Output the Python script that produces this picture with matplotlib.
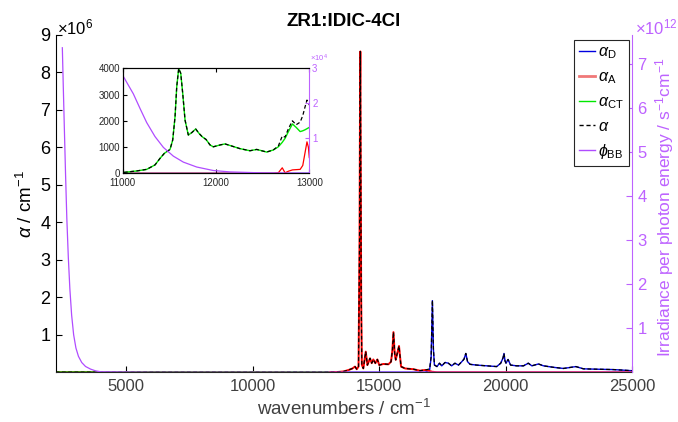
import matplotlib
matplotlib.use('Agg')
import matplotlib.pyplot as plt
from matplotlib.lines import Line2D

plt.rcParams['font.family'] = ['Liberation Sans', 'DejaVu Sans']
plt.rcParams['mathtext.fontset'] = 'custom'
plt.rcParams['mathtext.rm'] = 'Liberation Sans'
plt.rcParams['mathtext.it'] = 'Liberation Sans:italic'

# IR / NIR part (also shown in the inset), wavenumbers in cm-1, alpha in cm-1
wn_nir = [2222, 4000, 8000, 11000, 11150, 11257, 11346, 11400, 11446, 11507,
          11536, 11561, 11579, 11600, 11622, 11643, 11668, 11703, 11740, 11782,
          11818, 11853, 11893, 11936, 11971, 12043, 12096, 12168, 12257, 12364,
          12436, 12490, 12543, 12614, 12668, 12710, 12740, 12776, 12819, 12859,
          12902, 12930, 12955, 12975, 12990, 13000]
alpha_CT_nir = [0, 0, 5, 30, 90, 150, 320, 570, 760, 910,
                1270, 2160, 3300, 3990, 3810, 3050, 2030, 1460, 1550, 1690,
                1520, 1390, 1290, 1080, 1010, 1080, 1120, 1040, 940, 860,
                910, 860, 810, 890, 1010, 1180, 1330, 1590, 1880, 1750,
                1590, 1620, 1660, 1700, 1730, 1750]
alpha_A_nir = [0, 0, 0, 0, 0, 0, 0, 0, 0, 0,
               0, 0, 0, 0, 0, 0, 0, 0, 0, 0,
               0, 0, 0, 0, 0, 0, 0, 0, 0, 0,
               0, 0, 0, 0, 20, 210, 20, 80, 130, 140,
               150, 300, 800, 1200, 1000, 600]
alpha_nir = [0, 0, 5, 30, 90, 150, 320, 570, 760, 910,
             1270, 2160, 3300, 3990, 3810, 3050, 2030, 1460, 1550, 1690,
             1520, 1390, 1290, 1080, 1010, 1080, 1120, 1040, 940, 860,
             910, 860, 810, 890, 1040, 1420, 1380, 1700, 2000, 1850,
             1950, 2200, 2540, 2790, 2700, 2600]

# visible part, alpha in 1e6 cm-1
wn_vis = [13300, 13600, 13800, 13950, 14050, 14120, 14190, 14230, 14250, 14262,
          14275, 14295, 14320, 14380, 14475, 14540, 14645, 14710, 14775, 14855,
          14935, 15010, 15170, 15370, 15475, 15530, 15570, 15620, 15660, 15790,
          15870, 16030, 16360, 16620, 16820, 16900, 17000, 17060, 17110, 17150,
          17190, 17290, 17390, 17480, 17610, 17740, 17870, 18000, 18140, 18270,
          18360, 18430, 18500, 18600, 18860, 19260, 19650, 19810, 19900, 19940,
          19980, 20020, 20100, 20200, 20440, 20710, 20900, 21040, 21300, 21500,
          21900, 22290, 22780, 23080, 23610, 24270, 25000]
alpha_A_vis = [0.002, 0.02, 0.06, 0.10, 0.15, 0.08, 0.15, 3.5, 7.5, 8.56,
               6.0, 2.0, 0.2, 0.10, 0.55, 0.19, 0.37, 0.24, 0.34, 0.24,
               0.34, 0.19, 0.22, 0.21, 0.28, 0.60, 1.07, 0.50, 0.33, 0.70,
               0.15, 0.10, 0.08, 0.04, 0.06, 0.05, 0.03, 0.02, 0.01, 0.01,
               0.005, 0, 0, 0, 0, 0, 0, 0, 0, 0,
               0, 0, 0, 0, 0, 0, 0, 0, 0, 0,
               0, 0, 0, 0, 0, 0, 0, 0, 0, 0,
               0, 0, 0, 0, 0, 0, 0]
alpha_D_vis = [0, 0, 0, 0, 0, 0, 0, 0, 0, 0,
               0, 0, 0, 0, 0, 0, 0, 0, 0, 0,
               0, 0, 0, 0, 0, 0, 0, 0, 0, 0,
               0, 0, 0, 0, 0, 0.02, 0.06, 0.40, 1.91, 0.60,
               0.19, 0.15, 0.24, 0.17, 0.26, 0.24, 0.17, 0.24, 0.19, 0.28,
               0.35, 0.50, 0.28, 0.21, 0.19, 0.17, 0.15, 0.24, 0.38, 0.50,
               0.30, 0.24, 0.34, 0.19, 0.17, 0.17, 0.24, 0.17, 0.22, 0.17,
               0.13, 0.10, 0.15, 0.09, 0.08, 0.07, 0.04]

# black-body photon flux per photon energy, s-1 cm-1
wn_bb = [2483, 2520, 2560, 2610, 2660, 2720, 2780, 2850, 2930, 3020,
         3120, 3250, 3400, 3600, 3800, 4000, 6000, 11000, 11060, 11114,
         11186, 11257, 11346, 11436, 11543, 11650, 11793, 11971, 12150, 12500,
         13000, 25000]
phi_bb = [7.37e12, 6.5e12, 5.6e12, 4.5e12, 3.5e12, 2.6e12, 1.9e12, 1.3e12, 0.85e12, 0.55e12,
          0.36e12, 0.22e12, 0.13e12, 0.07e12, 0.03e12, 0.01e12, 0, 2.8e4, 2.52e4, 2.27e4,
          1.85e4, 1.45e4, 1.05e4, 0.74e4, 0.49e4, 0.32e4, 0.18e4, 0.08e4, 0.04e4, 0.012e4,
          0.003e4, 0]

wn_all = wn_nir + wn_vis
aA_all = [v / 1e6 for v in alpha_A_nir] + alpha_A_vis
aD_all = [0] * len(wn_nir) + alpha_D_vis
a_all = [v / 1e6 for v in alpha_nir] + [a + d for a, d in zip(alpha_A_vis, alpha_D_vis)]
aCT_main = [v / 1e6 for v in alpha_CT_nir]

purple = '#B04CFF'
purple_ax = '#BD62FF'
c_blue, c_red, c_green = '#0000E0', '#FF0000', '#00E800'
gray = '#404040'

fig = plt.figure(figsize=(6.78, 4.22), dpi=100)
ax = fig.add_axes([0.0822, 0.118, 0.850, 0.7991])
ax2 = ax.twinx()

ax.plot(wn_all, aD_all, color=c_blue, lw=1.0)
ax.plot(wn_all, aA_all, color=c_red, lw=1.4)
ax.plot(wn_nir, aCT_main, color=c_green, lw=1.2)
ax.plot(wn_all, a_all, color='k', lw=0.9, dashes=(3, 2))
ax2.plot(wn_bb, [p / 1e12 for p in phi_bb], color=purple, lw=0.9)

ax.set_xlim(2222, 25000)
ax.set_ylim(0, 9)
ax2.set_ylim(0, 7.66)
ax.set_xticks([5000, 10000, 15000, 20000, 25000])
ax.set_yticks(range(1, 10))
ax2.set_yticks(range(1, 8))

for a in (ax, ax2):
    a.spines['top'].set_visible(False)
ax.spines['right'].set_visible(False)
ax2.spines['left'].set_visible(False)
ax2.spines['bottom'].set_visible(False)
ax2.spines['right'].set_color(purple_ax)
ax.spines['bottom'].set_color('#262626')

ax.tick_params(axis='x', direction='in', length=4, labelsize=12, labelcolor=gray, pad=5)
ax.tick_params(axis='y', direction='in', length=4, labelsize=13, pad=4)
ax2.tick_params(axis='y', direction='in', length=4, labelsize=12, colors=purple_ax, pad=4)

ax.set_xlabel('wavenumbers / cm$^{-1}$', fontsize=13.5, color=gray)
ax.xaxis.set_label_coords(0.5, -0.078)
ax.set_ylabel(r'$\alpha$ / cm$^{-1}$', fontsize=13.5)
ax.yaxis.set_label_coords(-0.034, 0.5)
ax2.set_ylabel('Irradiance per photon energy / s$^{-1}$cm$^{-1}$', fontsize=12.5, color=purple_ax)
ax2.yaxis.set_label_coords(1.037, 0.49)

fig.text(343.9 / 678, 1 - 21.5 / 422, 'ZR1:IDIC-4Cl', ha='center', va='center',
         fontsize=13.5, fontweight='bold')
fig.text(57 / 678, 1 - 27 / 422, r'$\times10^{6}$', ha='left', va='center', fontsize=12)
fig.text(635 / 678, 1 - 27 / 422, r'$\times10^{12}$', ha='left', va='center',
         fontsize=12, color=purple_ax)

handles = [Line2D([], [], color=c_blue, lw=1),
           Line2D([], [], color='#F07878', lw=2),
           Line2D([], [], color=c_green, lw=1),
           Line2D([], [], color='k', lw=1, dashes=(3, 2)),
           Line2D([], [], color=purple, lw=1)]
labels = [r'$\alpha_{\rm D}$', r'$\alpha_{\rm A}$', r'$\alpha_{\rm CT}$',
          r'$\alpha$', r'$\phi_{\rm BB}$']
leg = ax2.legend(handles, labels, loc='upper right',
                 bbox_to_anchor=(628.7 / 678, 1 - 40 / 422), bbox_transform=fig.transFigure,
                 fontsize=11.5, handlelength=1.0, handletextpad=0.2, borderpad=0.3,
                 labelspacing=0.5, fancybox=False, framealpha=1, borderaxespad=0)
leg.get_frame().set_edgecolor('#262626')
leg.get_frame().set_linewidth(0.8)

# inset
ins = fig.add_axes([0.1810, 0.5893, 0.2752, 0.2488])
ins2 = ins.twinx()
ins.plot(wn_all, [v * 1e6 for v in aD_all], color=c_blue, lw=0.9)
ins.plot(wn_nir, alpha_A_nir, color=c_red, lw=0.9)
ins.plot(wn_nir, alpha_CT_nir, color=c_green, lw=1.0)
ins.plot(wn_nir, alpha_nir, color='k', lw=0.9, dashes=(3, 2))
ins2.plot(wn_bb, [p / 1e4 for p in phi_bb], color=purple, lw=0.9)

ins.set_xlim(11000, 13000)
ins.set_ylim(0, 4000)
ins2.set_ylim(0, 3)
ins.set_xticks([11000, 12000, 13000])
ins.set_yticks([0, 1000, 2000, 3000, 4000])
ins2.set_yticks([1, 2, 3])
ins.tick_params(axis='x', direction='in', length=3, labelsize=7, labelcolor='#262626', pad=3.5, top=True)
ins.tick_params(axis='y', direction='in', length=3, labelsize=7, labelcolor='#262626', pad=2)
ins2.tick_params(axis='y', direction='in', length=3, labelsize=7, colors=purple_ax, pad=2)
ins2.spines['right'].set_color(purple_ax)
ins.spines['right'].set_visible(False)
fig.text(310 / 678, 1 - 58 / 422, r'$\times10^{4}$', ha='left', va='center',
         fontsize=5.5, color=purple_ax)

fig.savefig('out.png', dpi=100)
